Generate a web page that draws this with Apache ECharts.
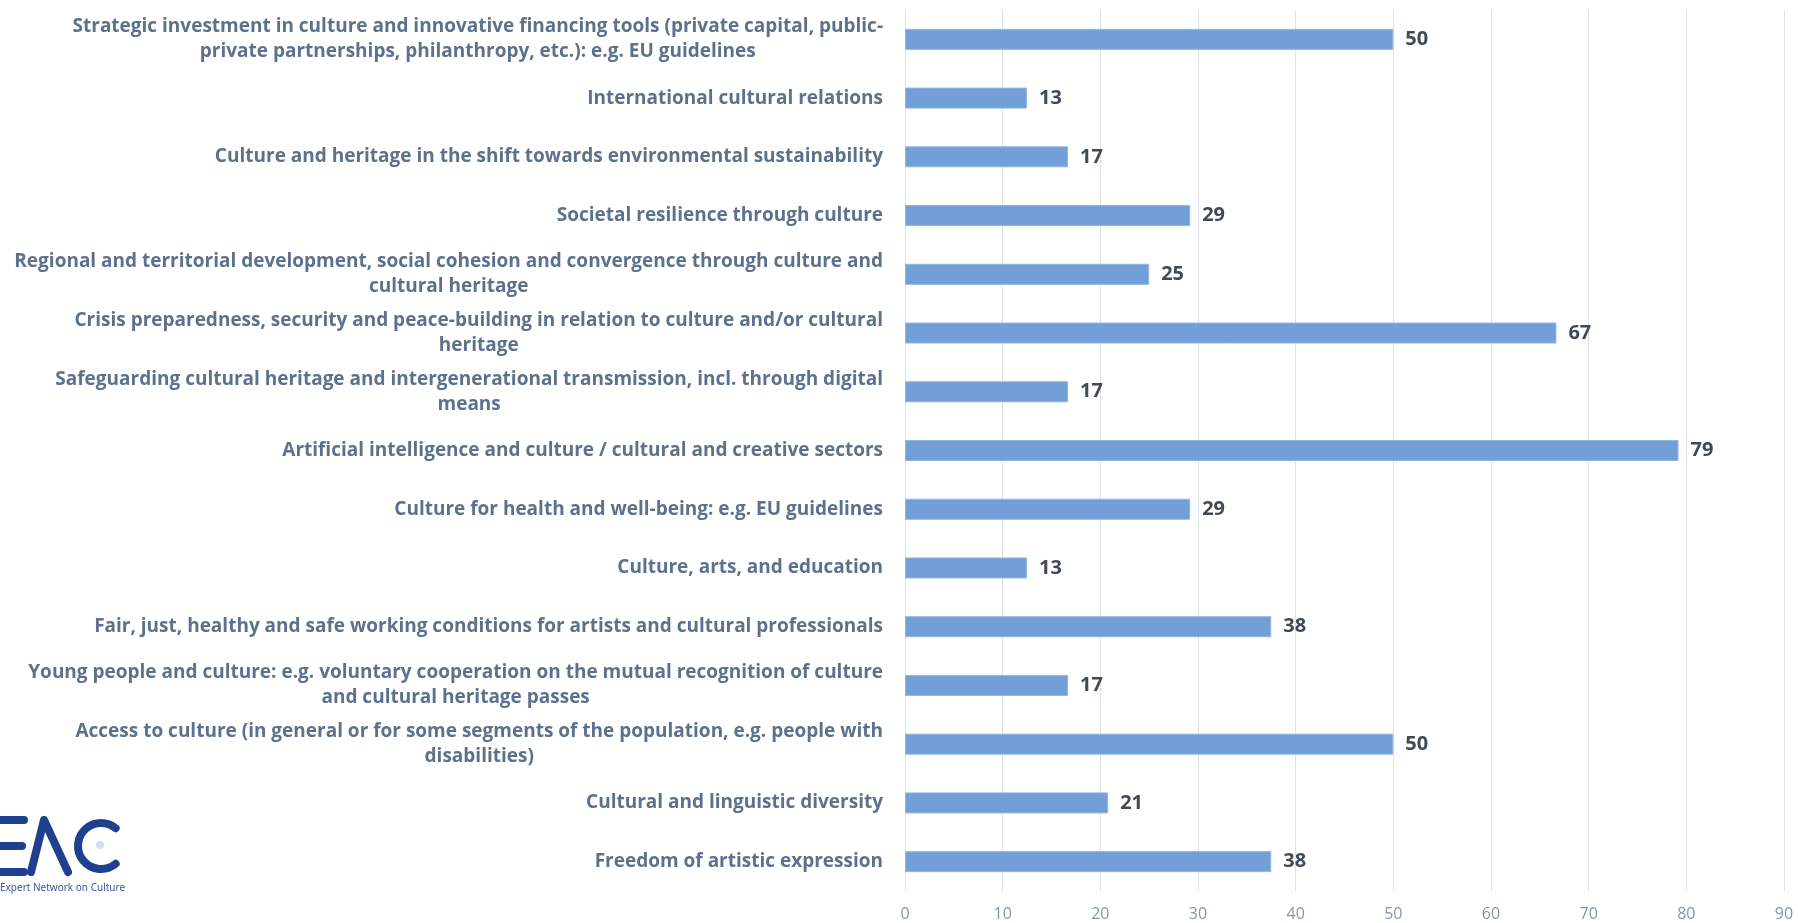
<!DOCTYPE html>
<html>
    <head>
        <meta charset="utf-8">
        <script src="https://cdn.jsdelivr.net/npm/echarts@6/dist/echarts.min.js"></script>
        <style>
            html, body {
                margin: 0;
                padding: 0;
                background: #fff;
            }
            #main {
                width: 1798px;
                height: 923px;
            }
        </style>
    </head>
    <body>
        <div id="main"></div>

        <script>
            // topics, top to bottom as in the picture
            var topics = [
                'Strategic investment in culture and innovative financing tools (private capital, public-\nprivate partnerships, philanthropy, etc.): e.g. EU guidelines',
                'International cultural relations',
                'Culture and heritage in the shift towards environmental sustainability',
                'Societal resilience through culture',
                'Regional and territorial development, social cohesion and convergence through culture and\ncultural heritage',
                'Crisis preparedness, security and peace-building in relation to culture and/or cultural\nheritage',
                'Safeguarding cultural heritage and intergenerational transmission, incl. through digital\nmeans',
                'Artificial intelligence and culture / cultural and creative sectors',
                'Culture for health and well-being: e.g. EU guidelines',
                'Culture, arts, and education',
                'Fair, just, healthy and safe working conditions for artists and cultural professionals',
                'Young people and culture: e.g. voluntary cooperation on the mutual recognition of culture\nand cultural heritage passes',
                'Access to culture (in general or for some segments of the population, e.g. people with\ndisabilities)',
                'Cultural and linguistic diversity',
                'Freedom of artistic expression'
            ];

            // share of answers (%)
            var shares = [50, 12.5, 16.7, 29.2, 25, 66.7, 16.7, 79.2, 29.2, 12.5, 37.5, 16.7, 50, 20.8, 37.5];

            var xMax = 90;
            var xStep = 10;

            var chart = echarts.init(document.getElementById('main'));

            var font = '"Open Sans", sans-serif';
            var logoBlue = '#1f3f8f';
            var topicColor = '#5d718d';

            chart.setOption({
                backgroundColor: '#ffffff',
                animation: false,
                grid: {
                    left: 905,
                    right: 14,
                    top: 10,
                    bottom: 32
                },
                xAxis: {
                    type: 'value',
                    min: 0,
                    max: xMax,
                    interval: xStep,
                    axisLine: {show: false},
                    axisTick: {show: false},
                    splitLine: {
                        show: true,
                        lineStyle: {color: '#dde1e8', width: 1}
                    },
                    axisLabel: {
                        margin: 15,
                        color: '#8496ae',
                        fontFamily: font,
                        fontSize: 16
                    }
                },
                yAxis: {
                    type: 'category',
                    inverse: true,
                    data: topics,
                    axisLine: {show: false},
                    axisTick: {show: false},
                    axisLabel: {
                        margin: 22,
                        align: 'right',
                        color: topicColor,
                        fontFamily: font,
                        fontWeight: 'bold',
                        fontSize: 19,
                        lineHeight: 25,
                        interval: 0,
                        // block sits right against the axis, its lines are centred
                        formatter: function (v) {
                            return v.split('\n').map(function (line) {
                                return '{c|' + line + '}';
                            }).join('\n');
                        },
                        rich: {
                            c: {
                                align: 'center',
                                color: topicColor,
                                fontFamily: font,
                                fontWeight: 'bold',
                                fontSize: 19,
                                lineHeight: 25
                            }
                        }
                    }
                },
                series: [{
                    type: 'bar',
                    data: shares,
                    barWidth: 21,
                    itemStyle: {
                        color: '#729fd8',
                        borderColor: '#92b5e2',
                        borderWidth: 1
                    },
                    label: {
                        show: true,
                        position: 'right',
                        distance: 12,
                        color: '#404a58',
                        fontFamily: font,
                        fontWeight: 'bold',
                        fontSize: 20,
                        formatter: function (p) {
                            return Math.round(p.value);
                        }
                    }
                }],
                graphic: [
                    // ENC logo, bottom left, partly cut by the page edge
                    {type: 'line', shape: {x1: -10, y1: 820, x2: 24, y2: 820}, style: {stroke: logoBlue, lineWidth: 8, lineCap: 'round'}},
                    {type: 'line', shape: {x1: -10, y1: 846, x2: 22, y2: 846}, style: {stroke: logoBlue, lineWidth: 8, lineCap: 'round'}},
                    {type: 'line', shape: {x1: -10, y1: 872, x2: 24, y2: 872}, style: {stroke: logoBlue, lineWidth: 8, lineCap: 'round'}},
                    {type: 'polyline', shape: {points: [[31, 872], [44, 820], [68, 872]]}, style: {stroke: logoBlue, lineWidth: 8, lineCap: 'round', lineJoin: 'round', fill: null}},
                    {type: 'arc', shape: {cx: 101, cy: 846, r: 23, startAngle: Math.PI * 0.28, endAngle: Math.PI * 1.72, clockwise: true}, style: {stroke: logoBlue, lineWidth: 8, lineCap: 'round', fill: null}},
                    {type: 'circle', shape: {cx: 100, cy: 845, r: 4}, style: {fill: '#d3dbee'}},
                    {type: 'text', left: 0, top: 883, style: {text: 'Expert Network on Culture', fill: '#3a569e', font: '10px "Noto Sans", sans-serif'}}
                ]
            });

            window.onresize = chart.resize;
        </script>
    </body>
</html>
